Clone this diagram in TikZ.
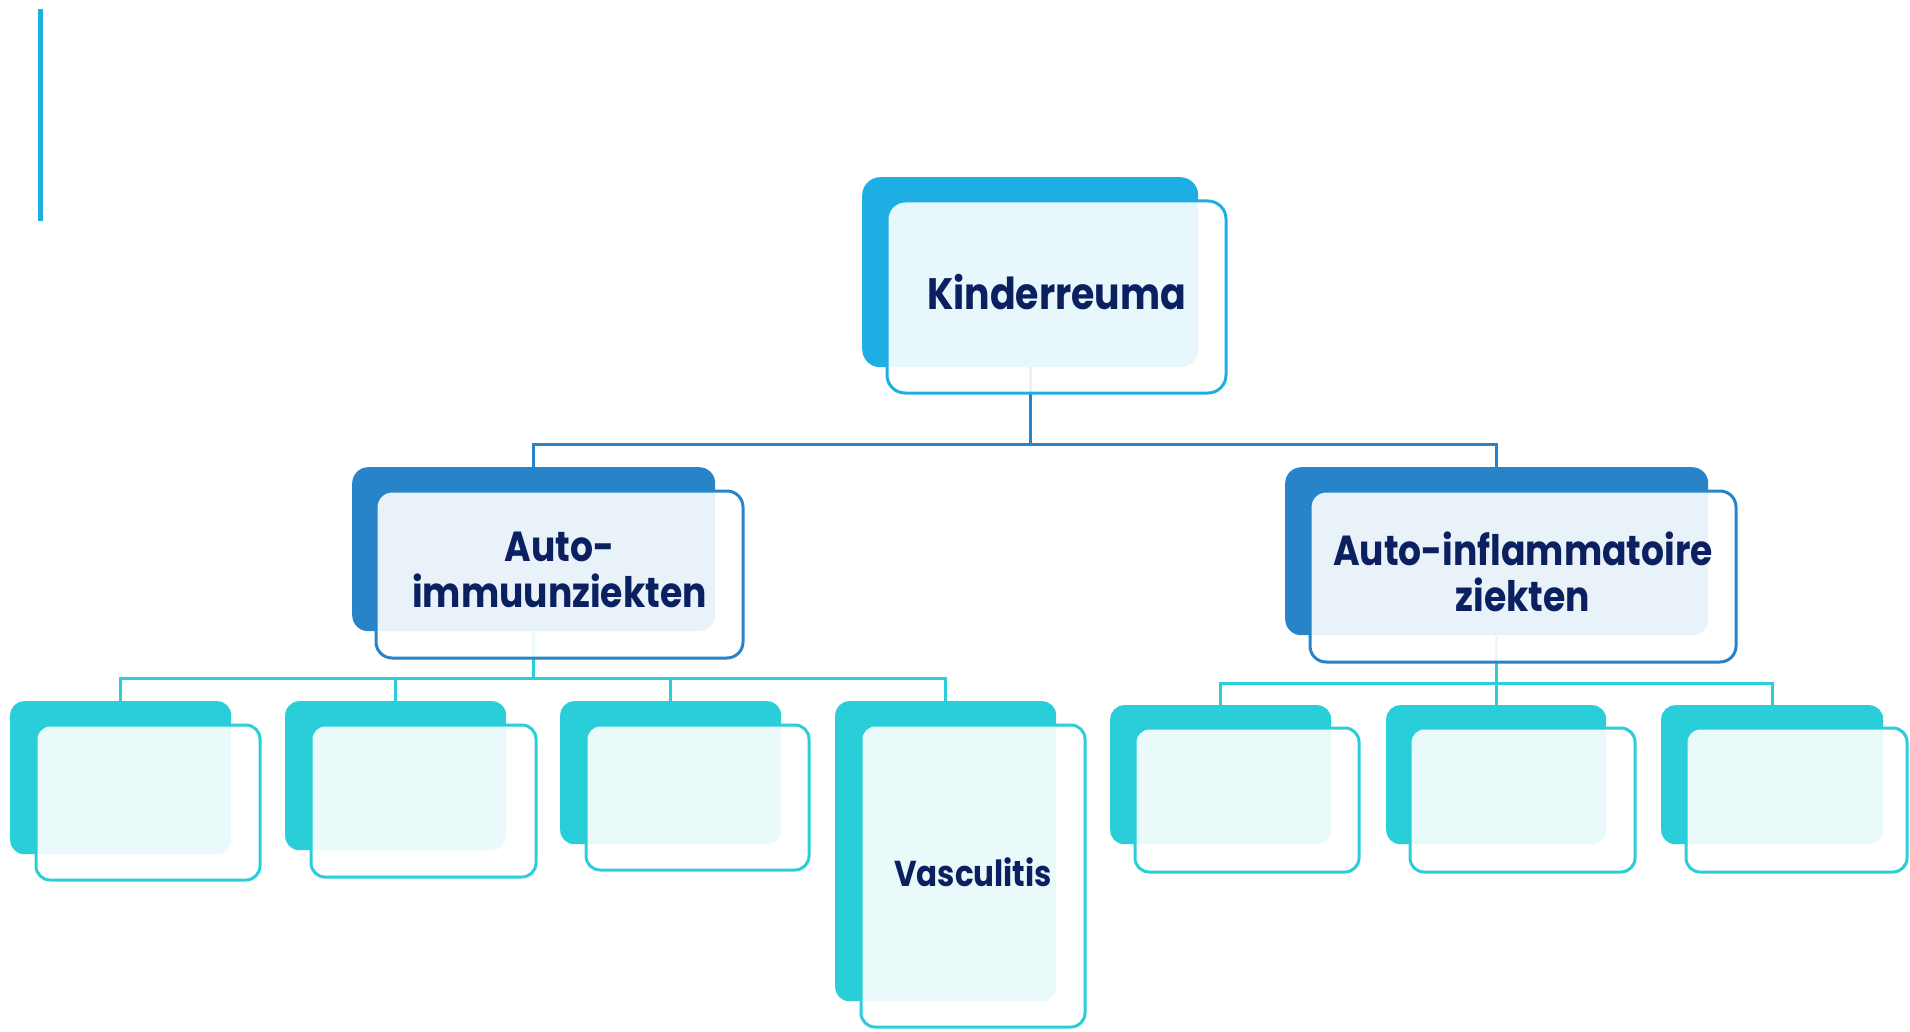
\documentclass[tikz,border=0pt]{standalone}
\usepackage{fontspec}
\newfontfamily\lblfont{Poppins}[FakeStretch=0.86]
\definecolor{cRoot}{RGB}{30,174,227}
\definecolor{cMid}{RGB}{39,132,200}
\definecolor{cLeaf}{RGB}{41,206,216}
\definecolor{navy}{RGB}{10,32,96}
\tikzset{
  backbox/.style={draw=none, fill=#1, inner sep=0pt, anchor=north west, rounded corners=14pt},
  frontbox/.style={draw=#1, line width=3pt, fill=white, fill opacity=0.9, text opacity=1,
    text=navy, inner sep=0pt, anchor=north west, rounded corners=14pt, align=center},
  conn/.style={draw=#1, line width=3pt},
  fRoot/.style={font={\lblfont\bfseries\fontsize{44}{50}\selectfont}, text depth=10pt},
  fMid/.style={font={\lblfont\bfseries\fontsize{42}{46}\selectfont}, text depth=10pt},
  fLeaf/.style={font={\lblfont\bfseries\fontsize{36}{40}\selectfont}, text depth=8pt}
}
\begin{document}
\begin{tikzpicture}[x=1pt,y=-1pt]
\useasboundingbox (0,0) rectangle (1910,1032);
% side bar
\fill[cRoot] (38,9) rectangle (43,221);
% back boxes (named for connectors)
\node[backbox=cRoot, rounded corners=18pt, minimum width=336pt, minimum height=190pt] (rootb) at (862,177) {};
\node[backbox=cMid, rounded corners=16pt, minimum width=363pt, minimum height=164pt] (autob) at (352,467) {};
\node[backbox=cMid, rounded corners=16pt, minimum width=423pt, minimum height=168pt] (inflb) at (1285,467) {};
\node[backbox=cLeaf, minimum width=221pt, minimum height=153pt] (a1b) at (10,701) {};
\node[backbox=cLeaf, minimum width=221pt, minimum height=149pt] (a2b) at (285,701) {};
\node[backbox=cLeaf, minimum width=221pt, minimum height=143pt] (a3b) at (560,701) {};
\node[backbox=cLeaf, minimum width=221pt, minimum height=300pt] (a4b) at (835,701) {};
\node[backbox=cLeaf, minimum width=221pt, minimum height=139pt] (b1b) at (1110,705) {};
\node[backbox=cLeaf, minimum width=220pt, minimum height=139pt] (b2b) at (1386,705) {};
\node[backbox=cLeaf, minimum width=222pt, minimum height=139pt] (b3b) at (1661,705) {};
% connectors
\draw[conn=cMid] (rootb.south) -- (rootb.south |- 0,444) -| (autob.north);
\draw[conn=cMid] (rootb.south |- 0,444) -| (inflb.north);
\draw[conn=cLeaf] (autob.south) -- (autob.south |- 0,678) -| (a1b.north);
\draw[conn=cLeaf] (autob.south |- 0,678) -| (a2b.north);
\draw[conn=cLeaf] (autob.south |- 0,678) -| (a3b.north);
\draw[conn=cLeaf] (autob.south |- 0,678) -| (a4b.north);
\draw[conn=cLeaf] (inflb.south) -- (inflb.south |- 0,683) -| (b1b.north);
\draw[conn=cLeaf] (inflb.south |- 0,683) -| (b2b.north);
\draw[conn=cLeaf] (inflb.south |- 0,683) -| (b3b.north);
% front boxes
\node[frontbox=cRoot, fRoot, rounded corners=18pt, minimum width=339pt, minimum height=192pt] (root) at (885.5,199.5) {Kinderreuma};
\node[frontbox=cMid, fMid, rounded corners=16pt, minimum width=367pt, minimum height=167pt] (auto) at (374.5,489.5) {Auto-\\immuunziekten};
\node[frontbox=cMid, fMid, rounded corners=16pt, minimum width=426pt, minimum height=171pt] (infl) at (1308.5,489.5) {Auto-inflammatoire\\ziekten};
\node[frontbox=cLeaf, minimum width=224pt, minimum height=155pt] (a1) at (34.5,723.5) {};
\node[frontbox=cLeaf, minimum width=225pt, minimum height=152pt] (a2) at (309.5,723.5) {};
\node[frontbox=cLeaf, minimum width=223pt, minimum height=145pt] (a3) at (584.5,723.5) {};
\node[frontbox=cLeaf, fLeaf, minimum width=224pt, minimum height=302pt] (a4) at (859.5,723.5) {Vasculitis};
\node[frontbox=cLeaf, minimum width=224pt, minimum height=144pt] (b1) at (1133.5,726.5) {};
\node[frontbox=cLeaf, minimum width=225pt, minimum height=144pt] (b2) at (1408.5,726.5) {};
\node[frontbox=cLeaf, minimum width=221pt, minimum height=144pt] (b3) at (1684.5,726.5) {};
\end{tikzpicture}
\end{document}
